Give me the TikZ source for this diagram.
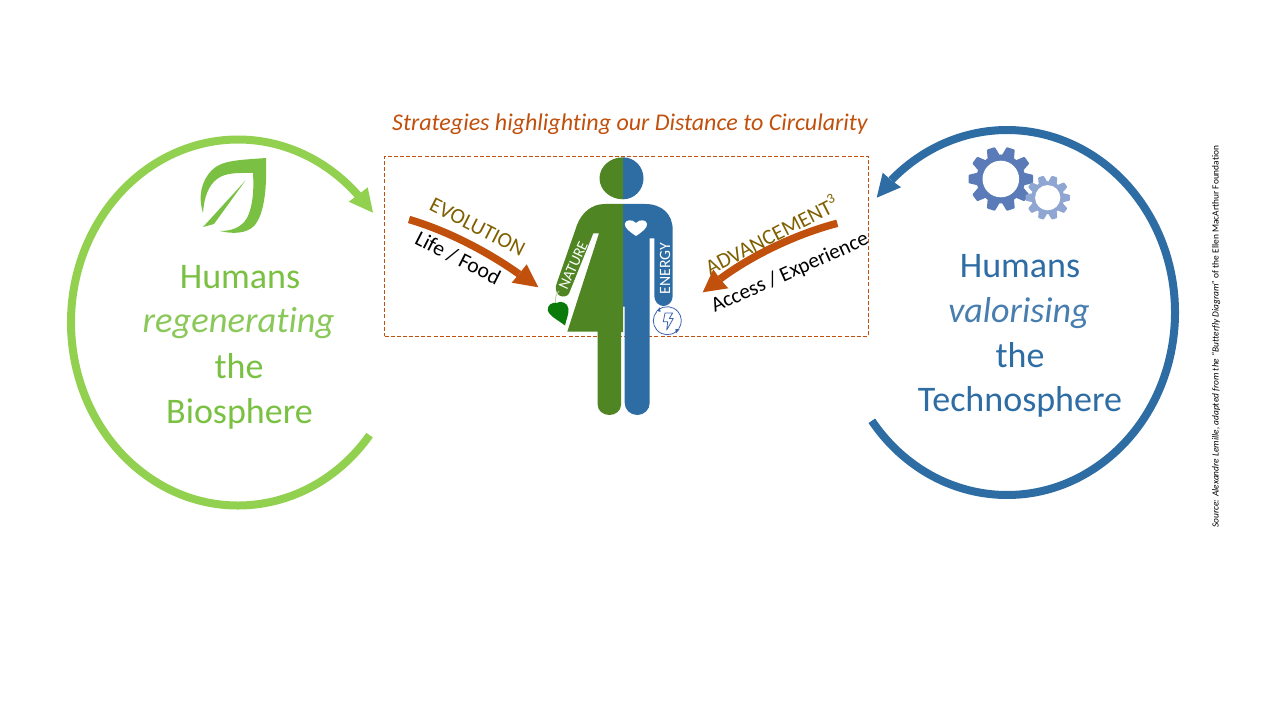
\documentclass[tikz,border=0pt]{standalone}
\usepackage{fontspec}
\setmainfont{Carlito}[Ligatures=NoCommon]
\definecolor{biogreen}{HTML}{92D050}
\definecolor{biotext}{HTML}{7AC143}
\definecolor{techblue}{HTML}{2E6CA4}
\definecolor{bodygreen}{HTML}{4F8522}
\definecolor{rust}{HTML}{C0500C}
\definecolor{olivetext}{HTML}{7F6000}
\definecolor{gearbig}{HTML}{5B7BB8}
\definecolor{gearsmall}{HTML}{8FA6D3}
\definecolor{iconblue}{HTML}{3A62B0}
\definecolor{leafdark}{HTML}{0A7A0A}
\definecolor{stemgrey}{HTML}{B5CFA8}
\tikzset{
 bigtext/.style={font=\fontsize{27}{30}\selectfont,inner sep=0pt,anchor=center},
 bio/.style={bigtext,text=biotext},
 tech/.style={bigtext,text=techblue},
 arrowlabel/.style={font=\fontsize{16.2}{18}\selectfont,inner sep=0pt},
 bodylabel/.style={text=white,inner sep=0pt},
}
\newcommand{\drawgear}[7]{% colour, x, y, R, body, hole, offset
  \fill[#1] (#2,#3) circle[radius=#5];
  \foreach \a in {0,36,...,324}{
    \fill[#1,shift={(#2,#3)},rotate=\a+#7,rounded corners=0.6pt]
      (-0.2*#4,-0.7*#4) -- (-0.13*#4,-#4) -- (0.13*#4,-#4) -- (0.2*#4,-0.7*#4) -- cycle;
  }
  \fill[white] (#2,#3) circle[radius=#6];
}
\begin{document}
\begin{tikzpicture}[x=0.75pt,y=-0.75pt]
\useasboundingbox (0,0) rectangle (1280,720);
% dashed frame
\node[draw=rust,dash pattern=on 3pt off 1.6pt,line width=0.6pt,minimum width=363pt,minimum height=135pt,inner sep=0pt] (frame) at (626.5,246) {};
\node[font=\fontsize{18}{20}\selectfont\itshape,text=rust,inner sep=0pt] (title) at (630,124) {Strategies highlighting our Distance to Circularity};
% left ring
\draw[biogreen,line width=6pt] (238,322.5) ++(38:167 and 183) arc[start angle=38,end angle=316,x radius=167,y radius=183];
\coordinate (ltip) at (373,212.7);
\fill[biogreen] (ltip) -- (348.7,201.7) -- (358,195) -- (367.7,187.3) -- cycle;
% right ring
\draw[techblue,line width=6pt] (1007,312.5) ++(143.6:168 and 182.5) arc[start angle=143.6,end angle=-133.5,x radius=168,y radius=182.5];
\coordinate (rtip) at (876.7,197.7);
\fill[techblue] (rtip) -- (882.7,172.7) -- (891,180) -- (901,187.3) -- cycle;
% leaf icon
\fill[biotext] (266,158) .. controls (240,160) and (222,160) .. (212,170)
  .. controls (201,181) and (198,197) .. (203,213)
  .. controls (204,198) and (208,186) .. (217,179)
  .. controls (226,172) and (240,173) .. (253,173)
  .. controls (254,190) and (253,206) .. (247,218)
  .. controls (241,228) and (231,231) .. (220,231)
  .. controls (232,234) and (246,234) .. (254,226)
  .. controls (265,214) and (267,185) .. cycle;
\fill[biotext] (245.5,180.5) -- (203,227) -- (214,224) -- cycle;
% gears
\drawgear{gearbig}{1000.8}{179}{32.2}{24.5}{18.3}{18}
\drawgear{gearsmall}{1047.7}{197.7}{22.2}{16.5}{12.6}{18}
% head
\fill[bodygreen] (623,157.3) arc[start angle=270,end angle=90,x radius=23.5,y radius=21] -- cycle;
\fill[techblue] (623,157.3) arc[start angle=-90,end angle=90,x radius=20.5,y radius=21] -- cycle;
% body
\fill[bodygreen] (623,204) -- (605,204) .. controls (592,204) and (582,212) .. (577,225)
  -- (556.5,284) .. controls (554,291) and (558,296) .. (562,296.5) .. controls (566,297) and (569,295) .. (570,291)
  -- (593.3,233.3) -- (599,233.3) -- (567.3,331.7) -- (597.7,331.7) -- (597.7,405)
  arc[start angle=180,end angle=0,x radius=11.65,y radius=10] -- (621,332) -- (623,332) -- cycle;
\fill[techblue] (623,204) -- (645,204) .. controls (662,204) and (672.7,214) .. (672.7,230)
  -- (672.7,296) arc[start angle=0,end angle=180,x radius=9.2,y radius=10] -- (654.3,238.3) -- (649.7,238.3)
  -- (649.7,403) arc[start angle=0,end angle=180,x radius=12.5,y radius=12] -- (624.7,306.7) -- (623,306.7) -- cycle;
% heart
\fill[white] (636,236) .. controls (630,232) and (624.5,228) .. (624.8,224)
  .. controls (625,220) and (632,218.5) .. (636,223)
  .. controls (640,218.5) and (647,220) .. (647,224)
  .. controls (647.5,228) and (642,232) .. cycle;
\node[bodylabel,font=\fontsize{11.4}{13}\selectfont,rotate=65] (nature) at (573.3,265.5) {NATURE};
\node[bodylabel,font=\fontsize{11.8}{13}\selectfont,rotate=90] (energy) at (665,268.5) {ENERGY};
% small leaf
\draw[stemgrey,line width=0.6pt] (559,291) .. controls (556,294) and (555,298) .. (555.5,303);
\fill[leafdark] (565,325.5) .. controls (558,320) and (549,316) .. (547.7,310)
  .. controls (547.5,305) and (552,302) .. (556.5,303)
  .. controls (561,300) and (568,303) .. (568.5,309)
  .. controls (569,314) and (566,320) .. cycle;
% energy icon
\draw[iconblue,line width=0.6pt] (667.3,320.7) ++(-130:14) arc[start angle=-130,end angle=35,radius=14];
\draw[iconblue,line width=0.6pt] (667.3,320.7) ++(48:14) arc[start angle=48,end angle=222,radius=14];
\fill[iconblue] (656.6,310.8) -- (659.8,307.4) -- (660.5,311.9) -- cycle;
\fill[iconblue] (679.5,329.3) -- (676,333.4) -- (675.3,329) -- cycle;
\draw[iconblue,line width=0.6pt,line join=round] (665,313) -- (672.6,313) -- (669.3,318.5) -- (673.3,318.5) -- (666.7,330) -- (667.7,321.7) -- (663.3,321.7) -- cycle;
% orange arrows
\coordinate (evotip) at (538.3,287.3);
\draw[rust,line width=5.6pt] (409,219.5) .. controls (445,230) and (485,250) .. (519,274);
\fill[rust] (evotip) -- (511.7,282.7) -- (519,274) -- (526.7,264.3) -- cycle;
\coordinate (advtip) at (702.7,292.3);
\draw[rust,line width=5.6pt] (837.3,223.3) .. controls (800,233) and (755,253) .. (720,279);
\fill[rust] (advtip) -- (713.3,269.3) -- (720,279) -- (728.3,288.3) -- cycle;
\node[arrowlabel,text=olivetext,rotate=-27] (evo) at (477.5,226.7) {EVOLUTION};
\node[arrowlabel,rotate=-27] (life) at (458,258) {Life / Food};
\node[arrowlabel,text=olivetext,rotate=27] (adv) at (771,234.5) {ADVANCEMENT\raisebox{0.42em}{\fontsize{10.5}{11}\selectfont 3}};
\node[arrowlabel,font=\fontsize{15.9}{18}\selectfont,rotate=24] (access) at (790,273) {Access / Experience};
% big texts
\node[bio] (h1) at (240,277) {Humans};
\node[bio,text=biotext!88!white,font=\fontsize{27.4}{30}\selectfont\itshape] (h2) at (238.5,323) {regenerating};
\node[bio] (h3) at (239,366) {the};
\node[bio] (h4) at (239.5,414) {Biosphere};
\node[tech] (t1) at (1020,266) {Humans};
\node[tech,text=techblue!88!white,font=\fontsize{27}{30}\selectfont\itshape] (t2) at (1019,313) {valorising};
\node[tech] (t3) at (1020,355) {the};
\node[tech] (t4) at (1020,402) {Technosphere};
% source
\node[rotate=90,font=\fontsize{7.05}{9}\selectfont,inner sep=0pt] (src) at (1216,336.5) {\itshape Source: Alexandre Lemille, adapted from the “Butterfly Diagram” \upshape of the Ellen MacArthur Foundation};
\end{tikzpicture}
\end{document}
